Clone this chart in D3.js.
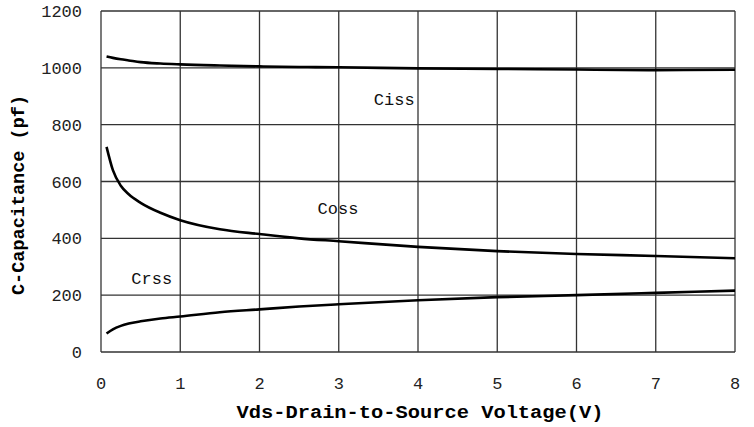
<!DOCTYPE html>
<html><head><meta charset="utf-8">
<script src="https://cdn.jsdelivr.net/npm/d3@7"></script>
<style>body{margin:0;background:#fff}</style>
</head><body>
<svg id="c" width="754" height="427"></svg>
<script>
const xTicks = [0,1,2,3,4,5,6,7,8];
const yTicks = [0,200,400,600,800,1000,1200];
const vds = [0.07,0.15,0.25,0.35,0.5,0.75,1,1.5,2,2.5,3,4,5,6,7,8];
const ciss = [1040,1035,1030,1026,1020,1015,1012,1008,1005,1003,1002,998,996,994,992,993];
const coss = [722,640,585,555,525,490,464,432,415,400,390,370,355,345,338,330];
const crss = [65,80,92,100,108,118,125,140,150,160,168,182,193,200,208,216];
const labels = [{t:"Ciss",x:3.70,y:869},{t:"Coss",x:2.99,y:486},{t:"Crss",x:0.64,y:239}];

const svg = d3.select("#c");
const L=101,R=735,T=11,B=352;
const x = d3.scaleLinear().domain([0,8]).range([L,R]);
const y = d3.scaleLinear().domain([0,1200]).range([B,T]);

const g = svg.append("g");
g.selectAll("line.vx").data(xTicks).enter().append("line")
 .attr("x1",d=>x(d)).attr("x2",d=>x(d)).attr("y1",T).attr("y2",B)
 .attr("stroke","#333").attr("stroke-width",1.3);
g.selectAll("line.hy").data(yTicks).enter().append("line")
 .attr("y1",d=>y(d)).attr("y2",d=>y(d)).attr("x1",L).attr("x2",R)
 .attr("stroke","#333").attr("stroke-width",1.3);

const font = "'Liberation Mono','DejaVu Sans Mono',monospace";
g.selectAll("text.yt").data(yTicks).enter().append("text")
 .attr("x",82).attr("y",d=>y(d)+6).attr("text-anchor","end")
 .attr("font-family",font).attr("font-size",17).attr("fill","#222").text(d=>d);
g.selectAll("text.xt").data(xTicks).enter().append("text")
 .attr("x",d=>x(d)).attr("y",389).attr("text-anchor","middle")
 .attr("font-family",font).attr("font-size",17).attr("fill","#222").text(d=>d);

const line = d3.line().x(d=>x(d[0])).y(d=>y(d[1])).curve(d3.curveMonotoneX);
[ciss,coss,crss].forEach(s=>{
  g.append("path").datum(vds.map((v,i)=>[v,s[i]])).attr("d",line)
   .attr("fill","none").attr("stroke","#000").attr("stroke-width",2.6);
});

g.selectAll("text.lb").data(labels).enter().append("text")
 .attr("x",d=>x(d.x)).attr("y",d=>y(d.y)).attr("text-anchor","middle")
 .attr("font-family",font).attr("font-size",17).attr("fill","#111").text(d=>d.t);

svg.append("text").attr("x",420).attr("y",418).attr("text-anchor","middle")
 .attr("font-family",font).attr("font-weight","bold").attr("font-size",19)
 .attr("textLength",367).attr("lengthAdjust","spacingAndGlyphs")
 .text("Vds-Drain-to-Source Voltage(V)");
svg.append("text").attr("transform","translate(24,195) rotate(-90)").attr("text-anchor","middle")
 .attr("font-family",font).attr("font-weight","bold").attr("font-size",18)
 .attr("textLength",200).attr("lengthAdjust","spacingAndGlyphs")
 .text("C-Capacitance (pf)");
</script>
</body></html>
